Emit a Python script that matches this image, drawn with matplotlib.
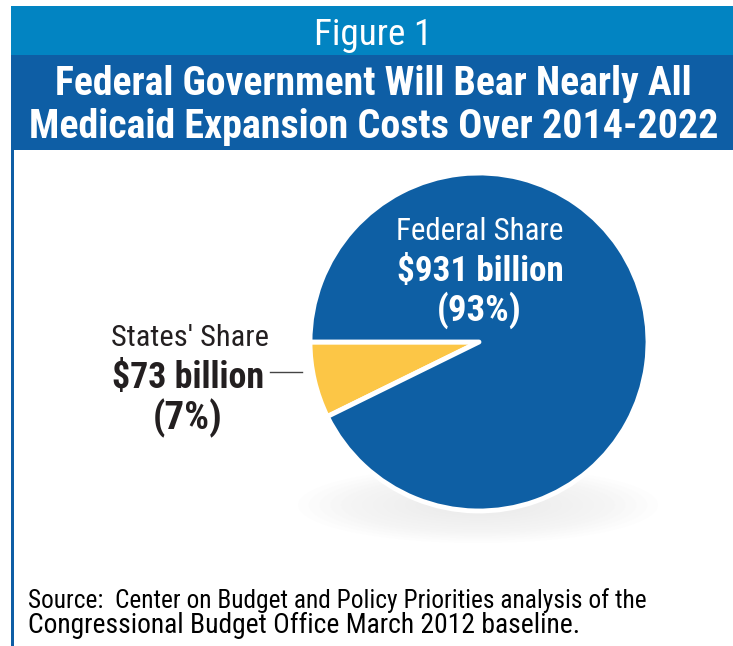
import matplotlib
matplotlib.use("Agg")
import matplotlib.pyplot as plt
from matplotlib import font_manager
from matplotlib.patches import Rectangle, Ellipse

# ---- data ----
share_labels = ["States' Share", "Federal Share"]
share_values = [73, 931]            # $ billion
share_pcts = ["(7%)", "(93%)"]
share_amounts = ["$73 billion", "$931 billion"]
header_text = "Figure 1"
title_lines = ["Federal Government Will Bear Nearly All",
               "Medicaid Expansion Costs Over 2014-2022"]
source_lines = ["Source:  Center on Budget and Policy Priorities analysis of the",
                "Congressional Budget Office March 2012 baseline."]

W, H = 733, 646
LIGHT = "#0284c2"
DARK = "#0e5ea5"
PIE_BLUE = "#0e5fa4"
YELLOW = "#fcc646"
INK = "#231f20"


def pick(cands, **kw):
    for c in cands:
        try:
            font_manager.findfont(font_manager.FontProperties(family=c, **kw),
                                  fallback_to_default=False)
            return c
        except Exception:
            continue
    return "DejaVu Sans"

NARROW = pick(["Liberation Sans Narrow", "Roboto Condensed", "DejaVu Sans Condensed",
               "Liberation Sans"])

fig = plt.figure(figsize=(W / 100, H / 100), dpi=100)
ax = fig.add_axes([0, 0, 1, 1])
ax.set_xlim(0, W)
ax.set_ylim(0, H)
ax.set_aspect("equal")
ax.axis("off")

def Y(y):
    return H - y

# header bands
ax.add_patch(Rectangle((11, Y(55)), W - 11, 49, color=LIGHT, lw=0, zorder=1))
ax.add_patch(Rectangle((11, Y(150)), W - 11, 95, color=DARK, lw=0, zorder=1))
ax.add_patch(Rectangle((11, 0), 2.5, Y(150), color=DARK, lw=0, zorder=1))

# soft shadow under pie
for i in range(14):
    f = 1 - i / 14
    ax.add_patch(Ellipse((478, Y(505)), 300 * f + 60, 64 * f + 12,
                         color="#e2e2e2", alpha=0.05, lw=0, zorder=0.5))

# pie
cx, cy, r = 479, Y(342), 169
wedges, _ = ax.pie(share_values, colors=[YELLOW, PIE_BLUE], startangle=180,
                   center=(cx, cy), radius=r, frame=True,
                   wedgeprops=dict(edgecolor="white", linewidth=3.5, joinstyle="round"))
for w_ in wedges:
    w_.set_zorder(2)
ax.set_xlim(0, W)
ax.set_ylim(0, H)
ax.axis("off")

texts = []
def T(x, y, s, width, color, weight="normal", ha="center", family=NARROW):
    t = ax.text(x, Y(y), s, ha=ha, va="baseline", color=color, fontsize=20,
                fontweight=weight, family=family, zorder=5)
    texts.append((t, width))
    return t

T(373, 45, header_text, 118, "white")
T(373, 95, title_lines[0], 637, "white", "bold")
T(374, 138, title_lines[1], 688, "white", "bold")

T(480, 240, share_labels[1], 167, "white")
T(480, 281, share_amounts[1], 167, "white", "bold")
T(479, 321, share_pcts[1], 85, "white", "bold")

T(190, 346, share_labels[0], 157, INK)
T(188, 388, share_amounts[0], 152, INK, "bold")
T(188, 429, share_pcts[0], 70, INK, "bold")

T(28, 608, source_lines[0], 617, "black", ha="left")
T(28, 633, source_lines[1], 553, "black", ha="left")

ax.plot([270, 302], [Y(372), Y(372)], color="#444444", lw=1.0, zorder=5)

fig.canvas.draw()
rend = fig.canvas.get_renderer()
for t, w in texts:
    bb = t.get_window_extent(rend)
    t.set_fontsize(t.get_fontsize() * w / bb.width)

fig.savefig("out.png", dpi=100, facecolor="white")
